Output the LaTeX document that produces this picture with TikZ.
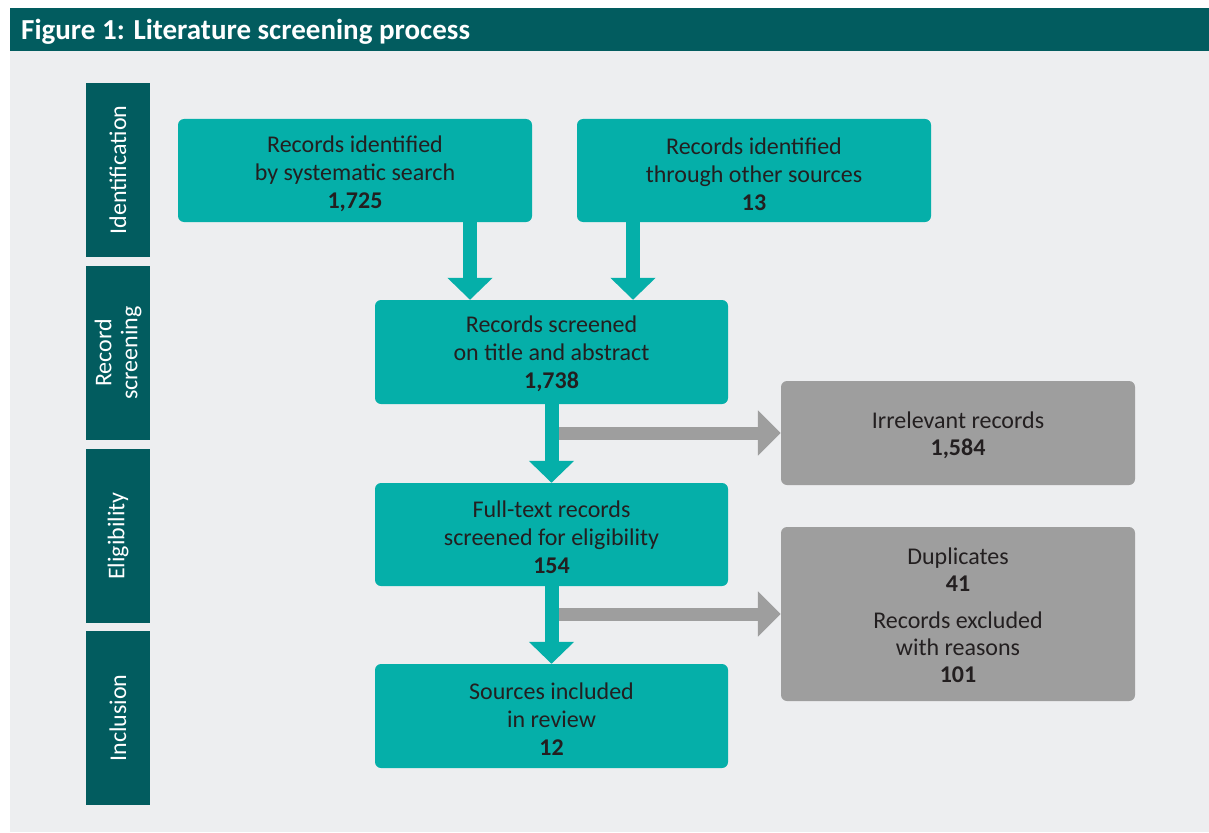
\documentclass[tikz,border=0pt]{standalone}
\usepackage{fontspec}
\setmainfont{Carlito}
\usetikzlibrary{arrows.meta}
\definecolor{hdr}{HTML}{025C5F}
\definecolor{teal1}{HTML}{05AFA9}
\definecolor{bggray}{HTML}{EDEEF0}
\definecolor{boxgray}{HTML}{9E9E9E}
\definecolor{txt}{HTML}{231F20}
\tikzset{
  box/.style={fill=teal1, rounded corners=6pt, inner sep=0pt},
  gbox/.style={box, fill=boxgray},
  boxtext/.style={text=txt, align=center, inner sep=0pt,
    font=\fontsize{24}{28}\selectfont},
  side/.style={fill=hdr, inner sep=0pt, minimum width=64pt, minimum height=174pt},
  sidelabel/.style={rotate=90, text=white, align=center, inner sep=0pt,
    font=\fontsize{24}{26}\selectfont},
  tarrow/.style={draw=teal1, line width=14pt, -{Triangle[width=44pt,length=22pt]}},
  garrow/.style={draw=boxgray, line width=13pt, -{Triangle[width=44pt,length=23pt]}}
}
\begin{document}
\begin{tikzpicture}[x=1pt,y=-1pt]
\useasboundingbox (0,0) rectangle (1209,832);
\fill[white] (0,0) rectangle (1209,832);
\fill[bggray] (10,51) rectangle (1209,832);
\fill[hdr] (10,8) rectangle (1209,51);
\node[anchor=west, text=white, font=\fontsize{29}{31}\selectfont\bfseries, inner sep=0pt] (title) at (21,32) {Figure 1: Literature screening process};
% side bars
\node[side] (s1) at (118,170) {};
\node[side] (s2) at (118,353) {};
\node[side] (s3) at (118,536) {};
\node[side] (s4) at (118,718) {};
\node[sidelabel] (l1) at (s1) {Identification};
\node[sidelabel] (l2) at (s2) {Record\\screening};
\node[sidelabel] (l3) at (s3) {Eligibility};
\node[sidelabel] (l4) at (s4) {Inclusion};
% boxes
\node[box, minimum width=354pt, minimum height=103pt] (A) at (355,170.5) {};
\node[box, minimum width=354pt, minimum height=103pt] (B) at (754,170.5) {};
\node[box, minimum width=353pt, minimum height=104pt] (C) at (551.5,352) {};
\node[box, minimum width=353pt, minimum height=103pt] (D) at (551.5,534.5) {};
\node[box, minimum width=353pt, minimum height=104pt] (E) at (551.5,716) {};
\node[gbox, minimum width=354pt, minimum height=104pt] (F) at (958,433) {};
\node[gbox, minimum width=354pt, minimum height=174pt] (G) at (958,614) {};
\node[boxtext] (tA) at ([yshift=-3.5pt]A.center) {Records identified\\by systematic search\\\textbf{1,725}};
\node[boxtext] (tB) at ([yshift=-3.5pt]B.center) {Records identified\\through other sources\\\textbf{13}};
\node[boxtext] (tC) at ([yshift=-2pt]C.center) {Records screened\\on title and abstract\\\textbf{1,738}};
\node[boxtext] (tD) at ([yshift=-3pt]D.center) {Full-text records\\screened for eligibility\\\textbf{154}};
\node[boxtext] (tE) at ([yshift=-3pt]E.center) {Sources included\\in review\\\textbf{12}};
\node[boxtext, font=\fontsize{24}{27}\selectfont] (tF) at ([yshift=-2.5pt]F.center) {Irrelevant records\\\textbf{1,584}};
\node[boxtext, font=\fontsize{24}{27}\selectfont] (tG) at ([yshift=-1.5pt]G.center) {Duplicates\\\textbf{41}\\[10pt]Records excluded\\with reasons\\\textbf{101}};
% connectors
\coordinate (xa) at (470,0);
\coordinate (xb) at (633,0);
\coordinate (j1) at (551.5,433);
\coordinate (j2) at (551.5,614);
\draw[tarrow] (A.south -| xa) -- (C.north -| xa);
\draw[tarrow] (B.south -| xb) -- (C.north -| xb);
\draw[garrow] (j1) -- (F.west);
\draw[garrow] (j2) -- (G.west);
\draw[tarrow] (C.south) -- (D.north);
\draw[tarrow] (D.south) -- (E.north);
\end{tikzpicture}
\end{document}
